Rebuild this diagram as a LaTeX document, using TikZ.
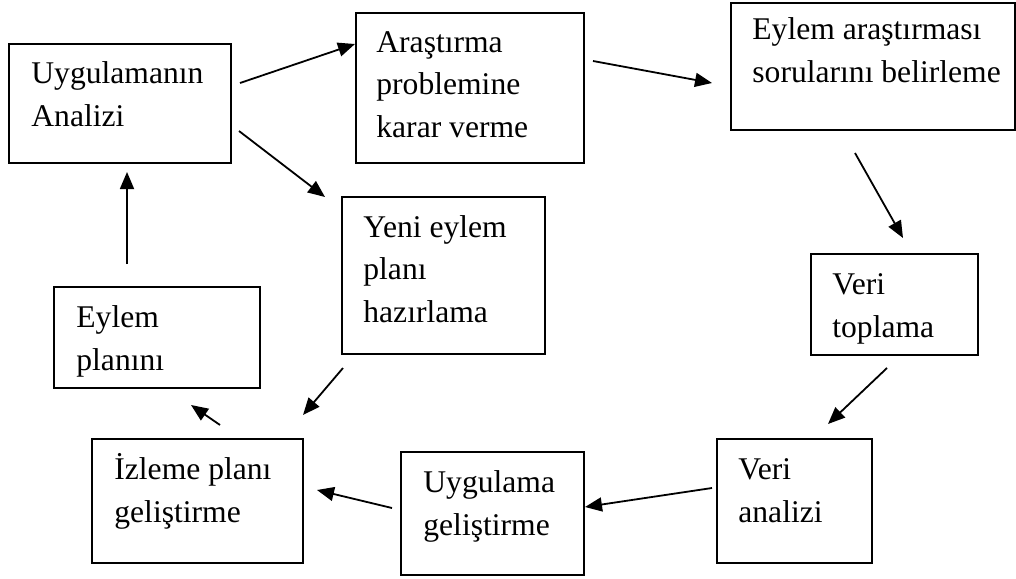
\documentclass[tikz,border=0pt]{standalone}
\usepackage{fontspec}
\setmainfont{Liberation Serif}
\usetikzlibrary{fit,arrows.meta}
\tikzset{
  box/.style={draw, line width=0.9pt, inner sep=0pt},
  txt/.style={anchor=base west, align=left, inner sep=0pt,
    font=\fontsize{15.8}{21.25}\selectfont},
  arr/.style={line width=0.9pt, -{Triangle[length=8.5pt,width=7pt]}}
}
\begin{document}
\begin{tikzpicture}[x=0.5pt,y=-0.5pt]
  \useasboundingbox (0,0) rectangle (1016,578);
  % kutular
  \node[box, fit={(9,44) (231,163)}] (analiz) {};
  \node[box, fit={(356,13) (584,163)}] (problem) {};
  \node[box, fit={(731,3) (1015,130)}] (soru) {};
  \node[box, fit={(811,254) (978,355)}] (toplama) {};
  \node[box, fit={(717,439) (872,563)}] (veri) {};
  \node[box, fit={(401,452) (584,575)}] (gelis) {};
  \node[box, fit={(92,439) (303,563)}] (izleme) {};
  \node[box, fit={(54,287) (260,388)}] (eylem) {};
  \node[box, fit={(342,197) (545,354)}] (yeni) {};
  % metinler (base = son satir)
  \node[txt] (analiz-t) at (31,126) {Uygulamanın\\Analizi};
  \node[txt] (problem-t) at (376,137) {Araştırma\\problemine\\karar verme};
  \node[txt] (soru-t) at (752,82) {Eylem araştırması\\sorularını belirleme};
  \node[txt] (toplama-t) at (832,337) {Veri\\toplama};
  \node[txt] (veri-t) at (738,522) {Veri\\analizi};
  \node[txt] (gelis-t) at (423,535) {Uygulama\\geliştirme};
  \node[txt] (izleme-t) at (114,522) {İzleme planı\\geliştirme};
  \node[txt] (eylem-t) at (76,370) {Eylem\\planını};
  \node[txt] (yeni-t) at (363,322) {Yeni eylem\\planı\\hazırlama};
  % oklar
  \coordinate (a1) at (240,83);  \coordinate (b1) at (355,44);
  \coordinate (a2) at (593,61);  \coordinate (b2) at (712,83);
  \coordinate (a3) at (855,153); \coordinate (b3) at (903,238);
  \coordinate (a4) at (887,368); \coordinate (b4) at (828,424);
  \coordinate (a5) at (712,488); \coordinate (b5) at (585,507);
  \coordinate (a6) at (392,508); \coordinate (b6) at (317,490);
  \coordinate (a7) at (220,425); \coordinate (b7) at (191,405);
  \coordinate (a8) at (127,264); \coordinate (b8) at (127,172);
  \coordinate (a9) at (343,368); \coordinate (b9) at (303,415);
  \coordinate (a10) at (239,131); \coordinate (b10) at (325,197);
  \draw[arr] (a1) -- (b1); \draw[arr] (a2) -- (b2);
  \draw[arr] (a3) -- (b3); \draw[arr] (a4) -- (b4);
  \draw[arr] (a5) -- (b5); \draw[arr] (a6) -- (b6);
  \draw[arr] (a7) -- (b7); \draw[arr] (a8) -- (b8);
  \draw[arr] (a9) -- (b9); \draw[arr] (a10) -- (b10);
\end{tikzpicture}
\end{document}
